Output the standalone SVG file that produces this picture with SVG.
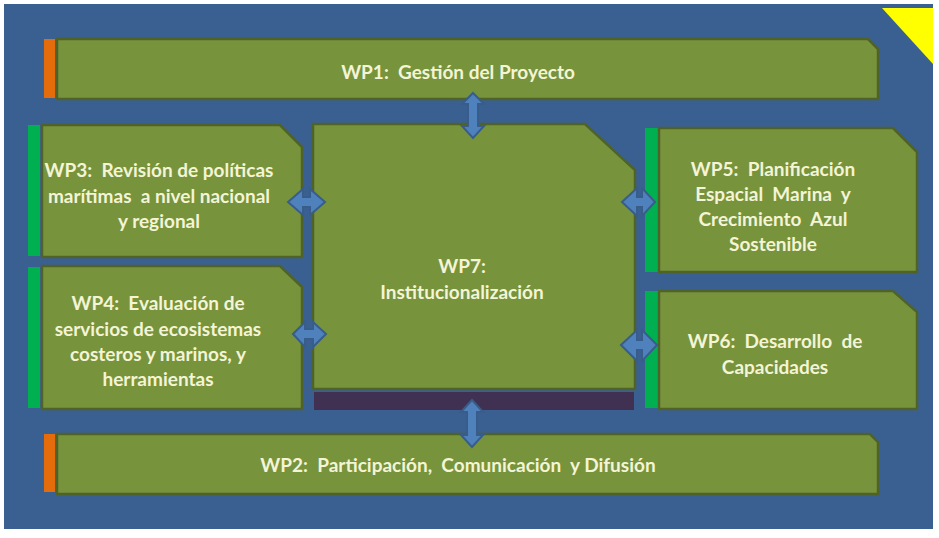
<svg xmlns="http://www.w3.org/2000/svg" width="939" height="538" viewBox="0 0 939 538">
<style>
.box{fill:#77933C;stroke:#4F6228;stroke-width:2.5}
.gbar{fill:#00B050}
.obar{fill:#E46C0A}
.t{font-family:Lato,"Open Sans","Liberation Sans",sans-serif;font-weight:bold;font-size:19px;fill:#F4F4D6;text-anchor:middle;white-space:pre}
.arr{fill:#4F81BD;stroke:#385D8A;stroke-width:2;stroke-linejoin:miter}
</style>
<rect x="0" y="0" width="939" height="538" fill="#ffffff"/>
<rect x="4" y="4" width="929" height="525" fill="#3A6092"/>
<polygon points="882,8 933,8 933,64" fill="#FFFF00"/>

<g id="wp1">
<rect class="obar" x="44" y="39" width="11" height="59"/>
<polygon class="box" points="57,39 868,39 878,49 878,99 57,99"/>
<text class="t" x="458" y="79" xml:space="preserve">WP1:  Gestión del Proyecto</text>
</g>

<g id="wp3">
<rect class="gbar" x="28" y="125" width="12" height="131"/>
<polygon class="box" points="42,125 280,125 302,147 302,257 42,257"/>
<text class="t" x="159" y="177" xml:space="preserve">WP3:  Revisión de políticas</text>
<text class="t" x="159" y="203" xml:space="preserve">marítimas  a nivel nacional</text>
<text class="t" x="159" y="228">y regional</text>
</g>

<g id="wp4">
<rect class="gbar" x="28" y="267" width="12" height="141"/>
<polygon class="box" points="42,266 280,266 302,287 302,409 42,409"/>
<text class="t" x="158" y="310" xml:space="preserve">WP4:  Evaluación de</text>
<text class="t" x="158" y="336">servicios de ecosistemas</text>
<text class="t" x="158" y="361">costeros y marinos, y</text>
<text class="t" x="158" y="386">herramientas</text>
</g>

<g id="wp7">
<polygon class="box" points="313,124 585,124 635,170 635,389 313,389"/>
<rect x="314" y="392" width="320" height="18" fill="#403152"/>
<text class="t" x="462" y="273">WP7:</text>
<text class="t" x="462" y="299">Institucionalización</text>
</g>

<g id="wp5">
<rect class="gbar" x="645" y="128" width="13" height="144"/>
<polygon class="box" points="659,128 893,128 917,152 917,272 659,272"/>
<text class="t" x="773" y="176" xml:space="preserve">WP5:  Planificación</text>
<text class="t" x="773" y="201" xml:space="preserve">Espacial  Marina  y</text>
<text class="t" x="773" y="226" xml:space="preserve">Crecimiento  Azul</text>
<text class="t" x="773" y="251">Sostenible</text>
</g>

<g id="wp6">
<rect class="gbar" x="645" y="291" width="13" height="117"/>
<polygon class="box" points="659,291 893,291 917,312 917,409 659,409"/>
<text class="t" x="775" y="348" xml:space="preserve">WP6:  Desarrollo  de</text>
<text class="t" x="775" y="374">Capacidades</text>
</g>

<g id="wp2">
<rect class="obar" x="44" y="434" width="11" height="58"/>
<polygon class="box" points="57,434 870,434 878,442 878,494 57,494"/>
<text class="t" x="458" y="472" xml:space="preserve">WP2:  Participación,  Comunicación  y Difusión</text>
</g>

<g id="connectors">
<polygon class="arr" points="473,93 484,104 478,104 478,126 484,126 473,138 462,126 468,126 468,104 462,104"/>
<polygon class="arr" points="472,400 483,412 477,412 477,435 483,435 472,447 461,435 467,435 467,412 461,412"/>
<polygon class="arr" points="288,202 303,189 303,197 310,197 310,189 325,202 310,215 310,207 303,207 303,215"/>
<polygon class="arr" points="293,334 305,322 305,329 313,329 313,322 326,334 313,347 313,339 305,339 305,347"/>
<polygon class="arr" points="622,202 637,188 637,197 642,197 642,188 655,202 642,216 642,207 637,207 637,216"/>
<polygon class="arr" points="621,345 637,330 637,340 642,340 642,330 657,345 642,361 642,350 637,350 637,361"/>
</g>
</svg>
